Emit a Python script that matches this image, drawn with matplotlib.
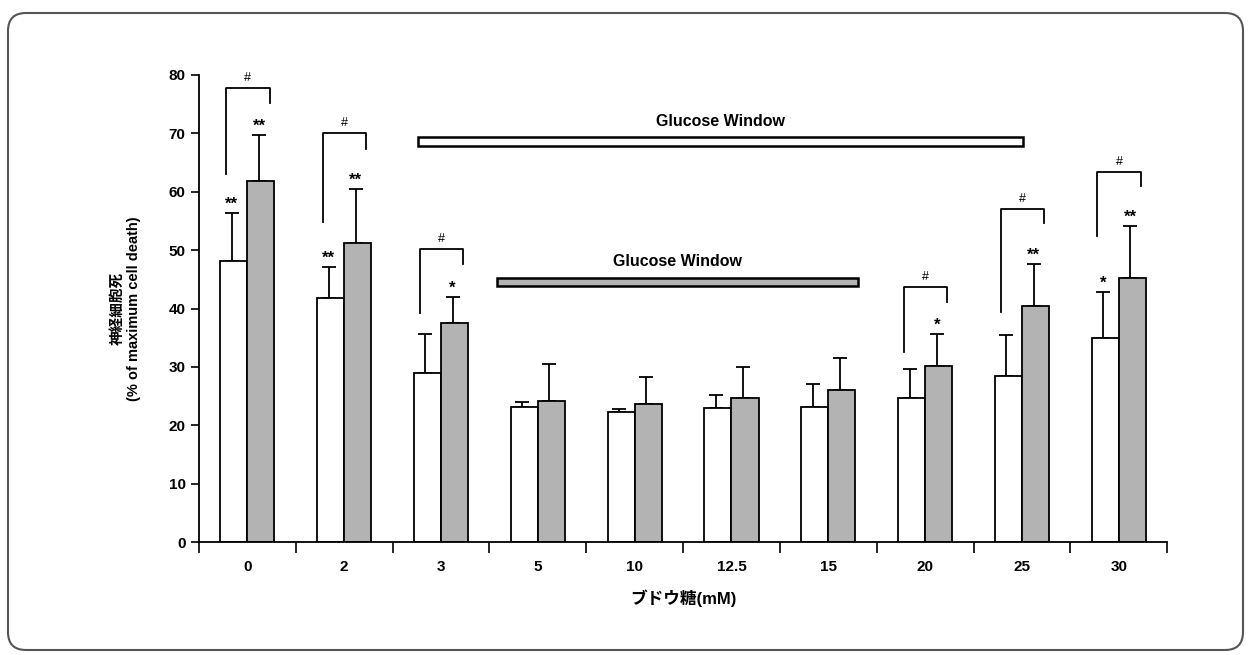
import matplotlib.pyplot as plt
import numpy as np
from matplotlib.patches import Rectangle, FancyBboxPatch

# -----------------------
# Data
# -----------------------
conc_labels = ["0", "2", "3", "5", "10", "12.5", "15", "20", "25", "30"]
white_mean = [48.1, 41.8, 29.0, 23.2, 22.2, 22.9, 23.2, 24.7, 28.4, 34.9]
white_err = [8.2, 5.3, 6.6, 0.7, 0.6, 2.2, 3.8, 4.9, 7.0, 8.0]
gray_mean = [61.8, 51.3, 37.6, 24.2, 23.6, 24.6, 26.1, 30.1, 40.5, 45.2]
gray_err = [8.0, 9.1, 4.4, 6.3, 4.7, 5.3, 5.5, 5.6, 7.1, 9.0]
white_sig = ["**", "**", "", "", "", "", "", "", "", "*"]
gray_sig = ["**", "**", "*", "", "", "", "", "*", "**", "**"]

# "#" brackets: group index, top, left leg bottom, right leg bottom
br_idx = [0, 1, 2, 7, 8, 9]
br_top = [77.8, 70.1, 50.2, 43.7, 57.0, 63.4]
br_left = [63.1, 54.9, 39.2, 32.6, 39.4, 52.4]
br_right = [75.2, 67.4, 47.7, 41.1, 54.7, 60.9]

# glucose window boxes: x0, x1 (group units), y0, y1
win_outer = [2.26, 8.51, 67.9, 69.3]
win_inner = [3.08, 6.81, 43.8, 45.2]

# -----------------------
# Plot
# -----------------------
plt.rcParams["font.family"] = ["Liberation Sans", "Noto Sans CJK JP", "DejaVu Sans"]

fig = plt.figure(figsize=(12.51, 6.55), dpi=100)
ax = fig.add_axes([0.159, 0.1725, 0.774, 0.713])

# rounded frame around the whole figure (inches)
frame = FancyBboxPatch((0.08, 0.05), 12.35, 6.37, boxstyle="round,pad=0,rounding_size=0.18",
                       transform=fig.dpi_scale_trans, fill=False, edgecolor="#555555", linewidth=1.5)
fig.patches.append(frame)

n = len(conc_labels)
centers = np.arange(n) + 0.5
bw = 0.28
xw = centers - bw / 2
xg = centers + bw / 2

ax.bar(xw, white_mean, width=bw, color="white", edgecolor="black", linewidth=1.3, zorder=2)
ax.bar(xg, gray_mean, width=bw, color="#b3b3b3", edgecolor="black", linewidth=1.3, zorder=2)
ax.errorbar(xw - 0.02, white_mean, yerr=[np.zeros(n), white_err], fmt="none",
            ecolor="black", elinewidth=1.3, capsize=5, capthick=1.3, zorder=1)
ax.errorbar(xg - 0.02, gray_mean, yerr=[np.zeros(n), gray_err], fmt="none",
            ecolor="black", elinewidth=1.3, capsize=5, capthick=1.3, zorder=1)

for i in range(n):
    if white_sig[i]:
        ax.text(xw[i] - 0.02, white_mean[i] + white_err[i] + 0.2, white_sig[i],
                ha="center", va="bottom", fontsize=12, fontweight="bold")
    if gray_sig[i]:
        ax.text(xg[i] - 0.02, gray_mean[i] + gray_err[i] + 0.2, gray_sig[i],
                ha="center", va="bottom", fontsize=12, fontweight="bold")

for k, i in enumerate(br_idx):
    lx = xw[i] - 0.08
    rx = xg[i] + 0.09
    ax.plot([lx, lx, rx, rx], [br_left[k], br_top[k], br_top[k], br_right[k]],
            color="black", linewidth=1.3)
    ax.text((lx + rx) / 2, br_top[k] + 0.7, "#", ha="center", va="bottom", fontsize=9)

# glucose window bars
x0, x1, y0, y1 = win_outer
ax.add_patch(Rectangle((x0, y0), x1 - x0, y1 - y0, facecolor="white", edgecolor="black", linewidth=1.8))
ax.text((x0 + x1) / 2, y1 + 1.5, "Glucose Window", ha="center", va="bottom",
        fontsize=11.5, fontweight="bold")
x0, x1, y0, y1 = win_inner
ax.add_patch(Rectangle((x0, y0), x1 - x0, y1 - y0, facecolor="#b3b3b3", edgecolor="black", linewidth=1.8))
ax.text((x0 + x1) / 2, y1 + 1.5, "Glucose Window", ha="center", va="bottom",
        fontsize=11.5, fontweight="bold")

ax.set_xlim(0, n)
ax.set_ylim(0, 80)
ax.set_yticks(np.arange(0, 81, 10))
ax.set_xticks(np.arange(0, n + 1))
ax.set_xticklabels([])
ax.set_xticks(centers, minor=True)
ax.set_xticklabels(conc_labels, minor=True, fontweight="bold")
ax.set_yticklabels([str(v) for v in range(0, 81, 10)], fontweight="bold")
ax.tick_params(axis="x", which="major", direction="out", length=8, width=1.2)
ax.tick_params(axis="x", which="minor", length=0, pad=13, labelsize=11)
ax.tick_params(axis="y", direction="out", length=6, width=1.2, labelsize=11)

for s in ["top", "right"]:
    ax.spines[s].set_visible(False)
for s in ["left", "bottom"]:
    ax.spines[s].set_linewidth(1.3)

ax.set_ylabel("神経細胞死\n(% of maximum cell death)", fontsize=10.5, fontweight="bold", labelpad=20)
ax.set_xlabel("ブドウ糖(mM)", fontsize=12, fontweight="bold", labelpad=11)

plt.savefig("out.png", dpi=100)
